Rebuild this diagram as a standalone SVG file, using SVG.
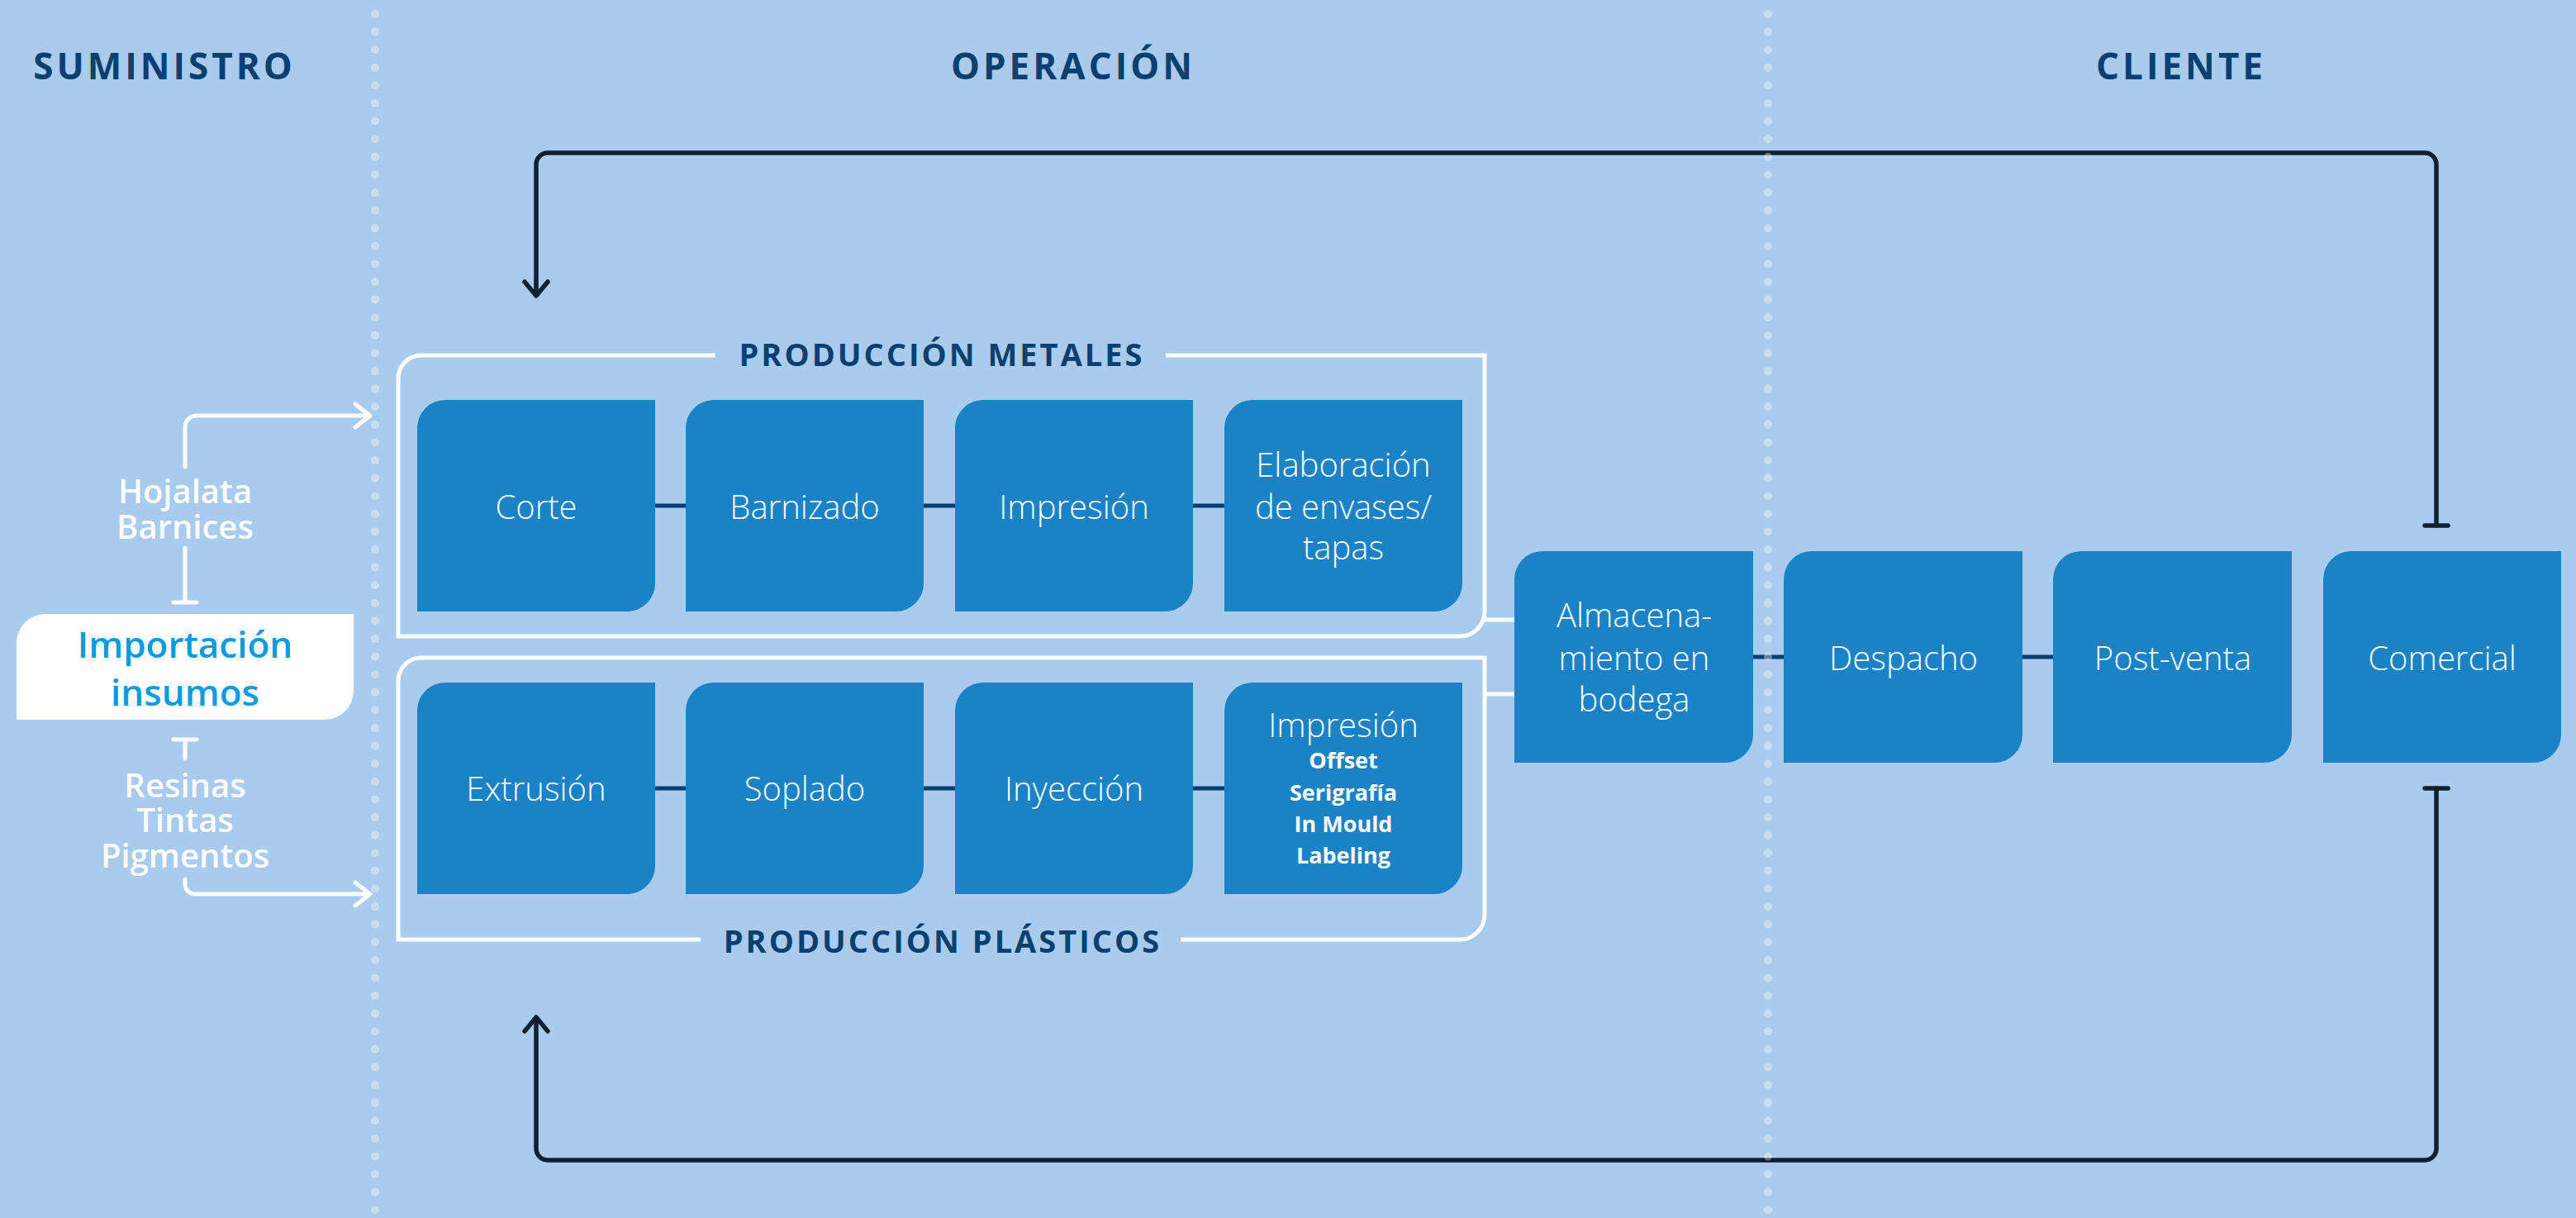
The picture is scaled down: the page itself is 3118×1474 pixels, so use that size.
<svg xmlns="http://www.w3.org/2000/svg" width="3118" height="1474" viewBox="0 0 3118 1474">
<style>
.bg{fill:#A8CBEE}
.hdr{font-family:"Open Sans","Liberation Sans",sans-serif;font-weight:700;fill:#0A3F6E;text-anchor:middle}
.h1{font-size:44px;letter-spacing:4px}
.h2{font-size:38px;letter-spacing:3px}
.box{fill:#1B82C5}
.lbl{font-family:"Open Sans","Liberation Sans",sans-serif;font-weight:300;font-size:40px;fill:#FFFFFF;text-anchor:middle}
.sub{font-family:"Open Sans","Liberation Sans",sans-serif;font-weight:700;font-size:27px;fill:#FFFFFF;text-anchor:middle}
.side{font-family:"Open Sans","Liberation Sans",sans-serif;font-weight:600;font-size:40px;fill:#FFFFFF;text-anchor:middle}
.imp{font-family:"Open Sans","Liberation Sans",sans-serif;font-weight:600;font-size:44px;fill:#0A9BE0;text-anchor:middle}
.wl{fill:none;stroke:#FFFFFF;stroke-width:5;stroke-linecap:round;stroke-linejoin:round}
.frame{fill:none;stroke:#FFFFFF;stroke-width:5}
.link{fill:none;stroke:#0B3E6C;stroke-width:5}
.loop{fill:none;stroke:#0D2133;stroke-width:5.5;stroke-linecap:round;stroke-linejoin:round}
.dots{fill:none;stroke:#FFFFFF;stroke-opacity:0.35;stroke-width:10;stroke-linecap:round;stroke-dasharray:0.1 21.5}
</style>
<rect class="bg" x="0" y="0" width="3118" height="1474"/>

<g id="headers">
<text class="hdr h1" x="199" y="96">SUMINISTRO</text>
<text class="hdr h1" x="1299" y="96">OPERACIÓN</text>
<text class="hdr h1" x="2640" y="96">CLIENTE</text>
</g>

<g id="frames">
<path class="frame" d="M866,430 H510 A28,28 0 0 0 482,458 V770 H1767 A30,30 0 0 0 1797,740 V430 H1411"/>
<text class="hdr h2" x="1140" y="443">PRODUCCIÓN METALES</text>
<path class="frame" d="M848,1137 H482 V824 A28,28 0 0 1 510,796 H1797 V1107 A30,30 0 0 1 1767,1137 H1429"/>
<text class="hdr h2" x="1141" y="1153">PRODUCCIÓN PLÁSTICOS</text>
</g>

<g id="connectors">
<path class="link" d="M793,612 H830 M1118,612 H1156 M1444,612 H1482"/>
<path class="link" d="M793,954 H830 M1118,954 H1156 M1444,954 H1482"/>
<path class="link" d="M2122,795 H2159 M2448,795 H2485"/>
<path class="frame" d="M1797,750 H1833 M1797,840 H1833"/>
<path class="wl" d="M224,565 V517 A14,14 0 0 1 238,503 H446 M430,489 L448,503 L430,517"/>
<path class="wl" d="M224,663 V729 M210,729 H238"/>
<path class="wl" d="M210,895 H238 M224,895 V918"/>
<path class="wl" d="M224,1064 V1070 A12,12 0 0 0 236,1082 H446 M430,1068 L448,1082 L430,1096"/>
<path class="loop" d="M2949,636 V199 A14,14 0 0 0 2935,185 H663 A14,14 0 0 0 649,199 V356 M635,341 L649,358 L663,341"/>
<path class="loop" d="M2935,636 H2963"/>
<path class="loop" d="M2949,954 V1390 A14,14 0 0 1 2935,1404 H663 A14,14 0 0 1 649,1390 V1233 M635,1248 L649,1231 L663,1248"/>
<path class="loop" d="M2935,954 H2963"/>
</g>

<g id="importacion">
<path fill="#FFFFFF" d="M55,743 H428 V836 A35,35 0 0 1 393,871 H20 V778 A35,35 0 0 1 55,743 Z"/>
<text class="imp" x="224" y="796">Importación</text>
<text class="imp" x="224" y="854">insumos</text>
</g>
<g id="insumos-metal">
<text class="side" x="224" y="609">Hojalata</text>
<text class="side" x="224" y="652">Barnices</text>
</g>
<g id="insumos-plastico">
<text class="side" x="224" y="965">Resinas</text>
<text class="side" x="224" y="1007">Tintas</text>
<text class="side" x="224" y="1050">Pigmentos</text>
</g>

<g id="corte">
<path class="box" d="M539,484 H793 V706 A34,34 0 0 1 759,740 H505 V518 A34,34 0 0 1 539,484 Z"/>
<text class="lbl" x="649" y="628">Corte</text>
</g>
<g id="barnizado">
<path class="box" d="M864,484 H1118 V706 A34,34 0 0 1 1084,740 H830 V518 A34,34 0 0 1 864,484 Z"/>
<text class="lbl" x="974" y="628">Barnizado</text>
</g>
<g id="impresion-metal">
<path class="box" d="M1190,484 H1444 V706 A34,34 0 0 1 1410,740 H1156 V518 A34,34 0 0 1 1190,484 Z"/>
<text class="lbl" x="1300" y="628">Impresión</text>
</g>
<g id="elaboracion">
<path class="box" d="M1516,484 H1770 V706 A34,34 0 0 1 1736,740 H1482 V518 A34,34 0 0 1 1516,484 Z"/>
<text class="lbl" x="1626" y="577">Elaboración</text>
<text class="lbl" x="1626" y="628">de envases/</text>
<text class="lbl" x="1626" y="677">tapas</text>
</g>

<g id="extrusion">
<path class="box" d="M539,826 H793 V1048 A34,34 0 0 1 759,1082 H505 V860 A34,34 0 0 1 539,826 Z"/>
<text class="lbl" x="649" y="969">Extrusión</text>
</g>
<g id="soplado">
<path class="box" d="M864,826 H1118 V1048 A34,34 0 0 1 1084,1082 H830 V860 A34,34 0 0 1 864,826 Z"/>
<text class="lbl" x="974" y="969">Soplado</text>
</g>
<g id="inyeccion">
<path class="box" d="M1190,826 H1444 V1048 A34,34 0 0 1 1410,1082 H1156 V860 A34,34 0 0 1 1190,826 Z"/>
<text class="lbl" x="1300" y="969">Inyección</text>
</g>
<g id="impresion-plastico">
<path class="box" d="M1516,826 H1770 V1048 A34,34 0 0 1 1736,1082 H1482 V860 A34,34 0 0 1 1516,826 Z"/>
<text class="lbl" x="1626" y="892">Impresión</text>
<text class="sub" x="1626" y="930">Offset</text>
<text class="sub" x="1626" y="969">Serigrafía</text>
<text class="sub" x="1626" y="1007">In Mould</text>
<text class="sub" x="1626" y="1045">Labeling</text>
</g>

<g id="almacenamiento">
<path class="box" d="M1867,667 H2122 V889 A34,34 0 0 1 2088,923 H1833 V701 A34,34 0 0 1 1867,667 Z"/>
<text class="lbl" x="1978" y="759">Almacena-</text>
<text class="lbl" x="1978" y="811">miento en</text>
<text class="lbl" x="1978" y="861">bodega</text>
</g>
<g id="despacho">
<path class="box" d="M2193,667 H2448 V889 A34,34 0 0 1 2414,923 H2159 V701 A34,34 0 0 1 2193,667 Z"/>
<text class="lbl" x="2304" y="811">Despacho</text>
</g>
<g id="postventa">
<path class="box" d="M2519,667 H2774 V889 A34,34 0 0 1 2740,923 H2485 V701 A34,34 0 0 1 2519,667 Z"/>
<text class="lbl" x="2630" y="811">Post-venta</text>
</g>
<g id="comercial">
<path class="box" d="M2846,667 H3100 V889 A34,34 0 0 1 3066,923 H2812 V701 A34,34 0 0 1 2846,667 Z"/>
<text class="lbl" x="2956" y="811">Comercial</text>
</g>

<g id="dividers">
<line class="dots" x1="454" y1="17" x2="454" y2="1474"/>
<line class="dots" x1="2140" y1="17" x2="2140" y2="1474"/>
</g>
</svg>
